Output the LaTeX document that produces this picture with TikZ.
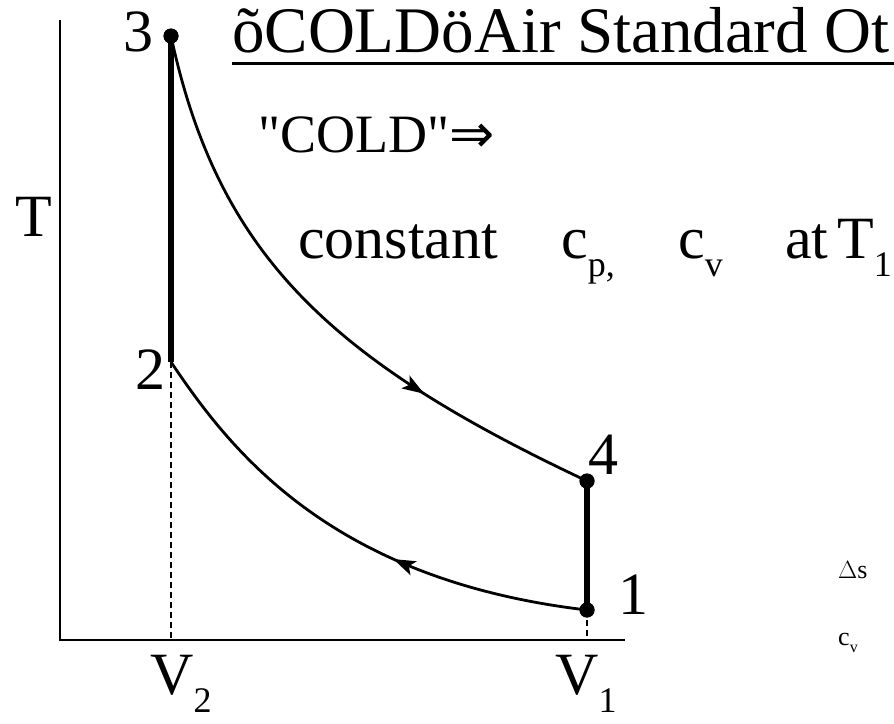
\documentclass[tikz,border=0pt]{standalone}
\usepackage{fontspec}
\setmainfont{Liberation Serif}
\newfontfamily\plainserif{Liberation Serif}
\newfontfamily\arrowfont{DejaVu Sans}
\usetikzlibrary{arrows.meta,decorations.markings}
\newcommand{\sbs}[1]{\raisebox{-0.3em}{\fontsize{36}{36}\selectfont #1}}
\newcommand{\smsbs}[1]{\raisebox{-0.3em}{\fontsize{16}{16}\selectfont #1}}
\begin{document}
\begin{tikzpicture}[x=1pt,y=-1pt,
  big/.style={font=\fontsize{60}{64}\selectfont, inner sep=0pt},
  small/.style={font=\fontsize{26}{28}\selectfont, inner sep=0pt},
  axis/.style={line width=2pt},
  curve/.style={line width=2.8pt},
  stroke/.style={line width=6pt},
  guide/.style={line width=1.2pt, dash pattern=on 6pt off 4pt},
  dot/.style={circle, fill, inner sep=0pt, minimum size=15pt},
  markarrow/.style={decoration={markings, mark=at position #1 with {\arrow{Stealth[length=22pt,width=15pt,inset=5pt]}}}, postaction=decorate}]
\useasboundingbox (0,0) rectangle (894,723);
\clip (0,0) rectangle (894,723);
% axes
\coordinate (O) at (60,640);
\coordinate (ytop) at (60,20);
\coordinate (xend) at (625,640);
\draw[axis] (ytop) -- (O) -- (xend);
% state points
\node[dot] (p3) at (171,36) {};
\coordinate (p2) at (171,362);
\node[dot] (p4) at (587,481) {};
\node[dot] (p1) at (587,610) {};
\coordinate (b2) at (171,640);
\coordinate (b1) at (587,640);
% guides
\draw[guide] (p2) -- (b2);
\draw[guide] (p1.center) -- (b1);
% processes
\draw[stroke] (p3.center) -- (p2);
\draw[stroke] (p4.center) -- (p1.center);
\draw[curve, markarrow=0.71] (p3.center) .. controls (218,255) and (330,360) .. (p4.center);
\draw[curve, markarrow=0.40] (p1.center) .. controls (330,580) and (230,450) .. (p2);
\node[dot] at (p3) {};
\node[dot] at (p4) {};
\node[dot] at (p1) {};
% labels
\node[big] (l3) at (138,32) {3};
\node[big] (l2) at (150,370) {2};
\node[big] (l4) at (603,455) {4};
\node[big] (l1) at (633,595) {1};
\node[big] (lT) at (34,217) {T};
\node[big, anchor=base west] (lV2) at (150,694) {V\sbs{2}};
\node[big, anchor=base west] (lV1) at (555,694) {V\sbs{1}};
% texts
\node[inner sep=0pt, font=\fontsize{65}{70}\selectfont, anchor=base west] (title) at (232,52) {õCOLDöAir Standard Ot};
\coordinate (ul1) at (232,63);
\coordinate (ul2) at (894,63);
\draw[line width=3pt] (ul1) -- (ul2);
\node[inner sep=0pt, font=\fontsize{54}{58}\plainserif, anchor=base west] (cold) at (258,152) {\char34 COLD\char34{\arrowfont ⇒}};
\node[big, anchor=base west] (const) at (298,258) {constant};
\node[big, anchor=base west] (cp) at (561,258) {c\sbs{p,}};
\node[big, anchor=base west] (cv2) at (678,258) {c\sbs{v}};
\node[big, anchor=base west] (at) at (785,258) {at};
\node[big, anchor=base west] (T1) at (837,258) {T\sbs{1}};
\node[small, anchor=base west] (ds) at (838,578) {$\Delta$s};
\node[small, anchor=base west] (cv) at (838,645) {c\smsbs{v}};
\end{tikzpicture}
\end{document}
